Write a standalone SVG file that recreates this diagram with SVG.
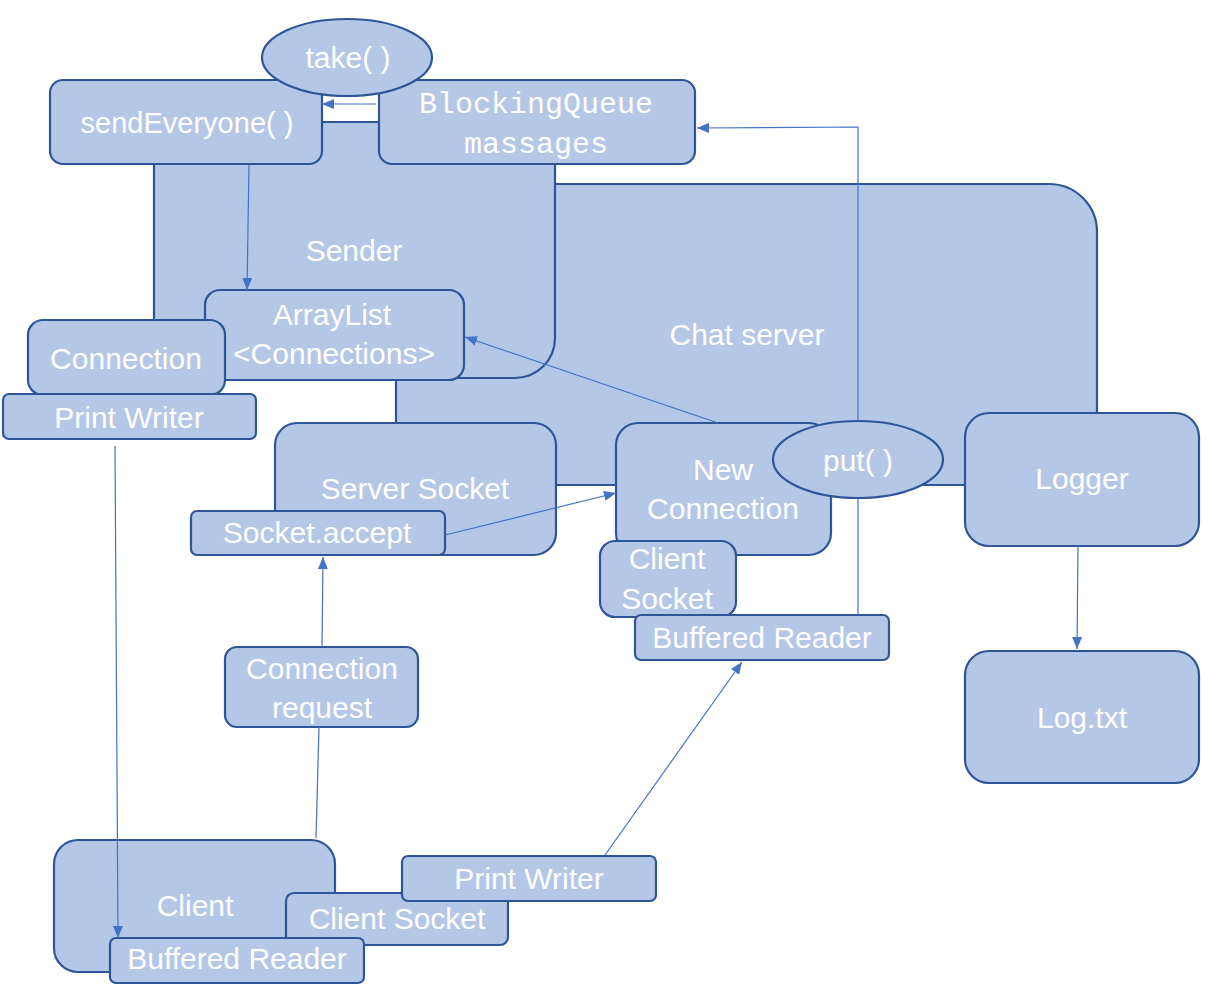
<svg xmlns="http://www.w3.org/2000/svg" width="1219" height="995" viewBox="0 0 1219 995">
<defs>
<style>
.n{fill:#B4C7E7;stroke:#2F5597;stroke-width:2.2}
.t{fill:#FFFFFF;font-family:"Liberation Sans",Arial,sans-serif;font-size:30px;text-anchor:middle}
.m{fill:#FFFFFF;font-family:"Liberation Mono","Courier New",monospace;font-size:30px;text-anchor:middle}
.c{fill:none;stroke:#4472C4;stroke-width:1.2}
</style>
<marker id="ah" markerWidth="12" markerHeight="10" refX="12" refY="5" orient="auto" markerUnits="userSpaceOnUse">
<path d="M0,0 L12,5 L0,10 Z" fill="#4472C4"/>
</marker>
</defs>
<rect width="1219" height="995" fill="#FFFFFF"/>
<g id="chat-server"><rect class="n" x="396" y="184" width="701" height="301" rx="48"/><text class="t" x="747" y="345">Chat server</text></g>
<g id="sender"><rect class="n" x="154" y="122" width="401" height="256" rx="40"/><text class="t" x="354" y="261">Sender</text></g>
<g id="send-everyone"><rect class="n" x="50" y="80" width="272" height="84" rx="13"/><text class="t" x="187" y="133" style="font-size:29px">sendEveryone( )</text></g>
<g id="blocking-queue"><rect class="n" x="379" y="80" width="316" height="84" rx="13"/><text class="m" x="536" y="113">BlockingQueue</text><text class="m" x="536" y="153">massages</text></g>
<g id="take"><ellipse class="n" cx="347" cy="57.5" rx="85" ry="38.5"/><text class="t" x="348" y="68">take( )</text></g>
<g id="arraylist"><rect class="n" x="205" y="290" width="259" height="90" rx="15"/><text class="t" x="332" y="325">ArrayList</text><text class="t" x="334" y="364">&lt;Connections&gt;</text></g>
<g id="connection"><rect class="n" x="28" y="320" width="197" height="75" rx="15"/><text class="t" x="126" y="369">Connection</text></g>
<g id="print-writer-top"><rect class="n" x="3" y="394" width="253" height="45" rx="6"/><text class="t" x="129" y="428">Print Writer</text></g>
<g id="server-socket"><rect class="n" x="275" y="423" width="281" height="132" rx="22"/><text class="t" x="415" y="499">Server Socket</text></g>
<g id="socket-accept"><rect class="n" x="191" y="511" width="254" height="44" rx="6"/><text class="t" x="317" y="543">Socket.accept</text></g>
<g id="new-connection"><rect class="n" x="616" y="423" width="215" height="132" rx="22"/><text class="t" x="723" y="480">New</text><text class="t" x="723" y="519">Connection</text></g>
<g id="put"><ellipse class="n" cx="858" cy="459.5" rx="85" ry="38.5"/><text class="t" x="858" y="471">put( )</text></g>
<g id="client-socket-server"><rect class="n" x="600" y="541" width="136" height="76" rx="15"/><text class="t" x="667" y="569">Client</text><text class="t" x="667" y="609">Socket</text></g>
<g id="buffered-reader-server"><rect class="n" x="635" y="615" width="254" height="45" rx="6"/><text class="t" x="762" y="648">Buffered Reader</text></g>
<g id="logger"><rect class="n" x="965" y="413" width="234" height="133" rx="24"/><text class="t" x="1082" y="489">Logger</text></g>
<g id="log-txt"><rect class="n" x="965" y="651" width="234" height="132" rx="24"/><text class="t" x="1082" y="728">Log.txt</text></g>
<g id="connection-request"><rect class="n" x="225" y="647" width="193" height="80" rx="12"/><text class="t" x="322" y="679">Connection</text><text class="t" x="322" y="718">request</text></g>
<g id="client"><rect class="n" x="54" y="840" width="281" height="132" rx="24"/><text class="t" x="195" y="916">Client</text></g>
<g id="client-socket-client"><rect class="n" x="286" y="893" width="222" height="52" rx="8"/><text class="t" x="397" y="929">Client Socket</text></g>
<g id="print-writer-client"><rect class="n" x="402" y="856" width="254" height="45" rx="6"/><text class="t" x="529" y="889">Print Writer</text></g>
<g id="buffered-reader-client"><rect class="n" x="110" y="938" width="254" height="45" rx="6"/><text class="t" x="237" y="969">Buffered Reader</text></g>
<g id="connectors">
<line class="c" x1="376" y1="104" x2="322" y2="104" marker-end="url(#ah)"/>
<line class="c" x1="249" y1="165" x2="247" y2="290" marker-end="url(#ah)"/>
<line class="c" x1="718" y1="423" x2="465" y2="337" marker-end="url(#ah)"/>
<line class="c" x1="445" y1="535" x2="616" y2="493" marker-end="url(#ah)"/>
<polyline class="c" points="858,421 858,127 697,128" marker-end="url(#ah)"/>
<line class="c" x1="858" y1="615" x2="858" y2="498"/>
<line class="c" x1="1078" y1="546" x2="1077" y2="649" marker-end="url(#ah)"/>
<line class="c" x1="322" y1="647" x2="323" y2="557" marker-end="url(#ah)"/>
<line class="c" x1="316" y1="838" x2="319" y2="727"/>
<line class="c" x1="605" y1="855" x2="742" y2="662" marker-end="url(#ah)"/>
<line class="c" x1="115" y1="446" x2="118" y2="938" marker-end="url(#ah)"/>
</g>
</svg>
